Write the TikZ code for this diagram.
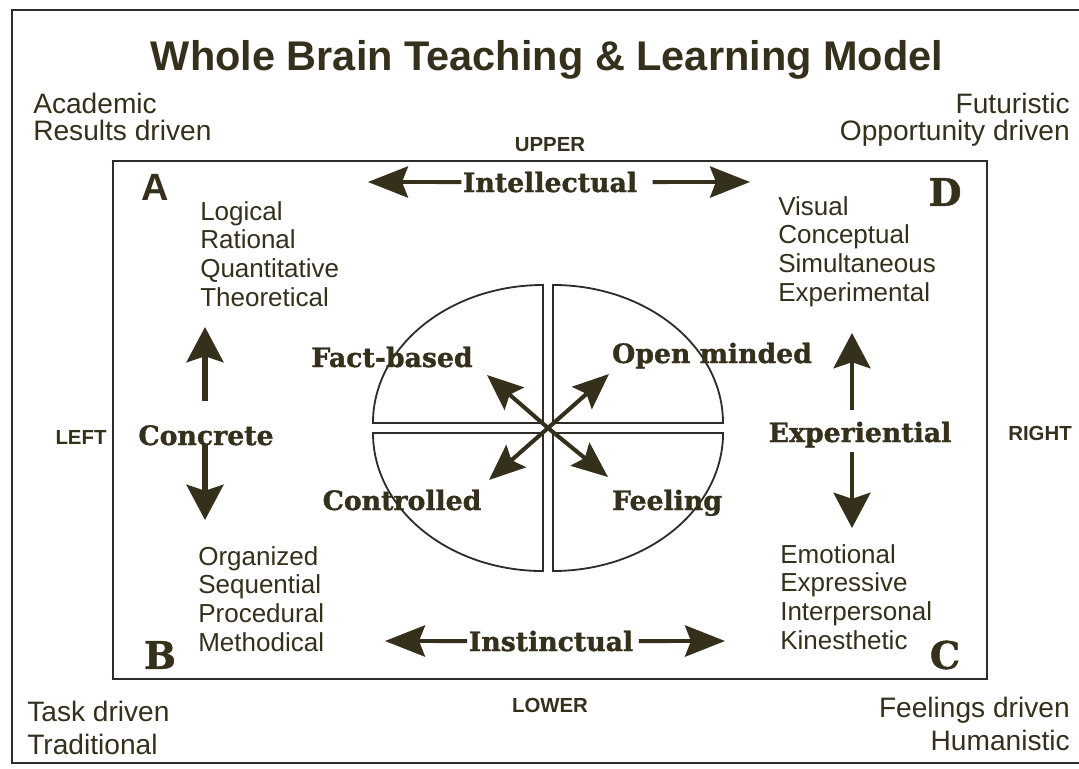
\documentclass[tikz,border=0pt]{standalone}
\usepackage{fontspec}
\setmainfont{Liberation Sans}
\newfontfamily\modefont{DejaVu Serif}[BoldFeatures={FakeBold=1.2}]
\usepackage{tikz}
\usetikzlibrary{positioning}
\usetikzlibrary{arrows.meta}
\definecolor{ink}{RGB}{52,48,28}
\definecolor{rule}{RGB}{46,45,40}
\newlength{\qgap}
\tikzstyle{frame}=[draw=rule, line width=1.4pt]
\tikzstyle{quadrant}=[draw=rule, line width=1.3pt]
\tikzstyle{trait}=[font=\fontsize{18.5}{20.4}\selectfont, align=left, anchor=north west, inner sep=0pt, text=ink]
\tikzstyle{driver}=[font=\fontsize{20}{19.2}\selectfont, inner sep=0pt, text=ink]
\tikzstyle{mode}=[font=\modefont\bfseries\fontsize{19}{22}\selectfont, inner sep=1pt, anchor=base, text=ink]
\tikzstyle{side}=[font=\bfseries\fontsize{14.5}{16}\selectfont, inner sep=0pt, text=ink]
\tikzstyle{corner}=[font=\modefont\bfseries\fontsize{27}{30}\selectfont, inner sep=0pt, text=ink]
\tikzstyle{axis}=[draw=ink, line width=2.8pt, -{Stealth[length=1cm, width=0.78cm, inset=0.15cm]}]
\tikzstyle{stem}=[draw=ink, line width=3.6pt, -{Stealth[length=0.88cm, width=0.92cm, inset=0.15cm]}]
\tikzstyle{spoke}=[draw=ink, line width=2.9pt, -{Stealth[length=0.9cm, width=0.74cm, inset=0.15cm]}]

\begin{document}
\begin{tikzpicture}[x=0.025cm, y=-0.025cm]

	\useasboundingbox (0,0) rectangle (1079,769);
	\fill[white] (0,0) rectangle (1079,769);
	\setlength{\qgap}{0.125cm}

	% frames
	\draw[frame] (1085,10) -- (12,10) -- (12,763) -- (1085,763);
	\draw[frame] (113,161) rectangle (987,679);

	\node (title) [font=\bfseries\fontsize{29.5}{32}\selectfont, text=ink, inner sep=0pt] at (547,60) {Whole Brain Teaching \& Learning Model};

	\node (acad) [driver, align=left, anchor=north west] at (33,93) {Academic\\Results driven};
	\node (futur) [driver, align=right, anchor=north east] at (1070,93) {Futuristic\\Opportunity driven};
	\node (task) [driver, font=\fontsize{20}{23.4}\selectfont, align=left, anchor=north west] at (27,701) {Task driven\\Traditional};
	\node (feel) [driver, font=\fontsize{20}{23.4}\selectfont, align=right, anchor=north east] at (1070,697) {Feelings driven\\Humanistic};

	\node (upper) [side] at (550,145) {UPPER};
	\node (lower) [side] at (550,705) {LOWER};
	\node (left) [side] at (81,437) {LEFT};
	\node (right) [side] at (1040,433) {RIGHT};

	% quadrant letters and traits
	\node (A) [corner, font=\bfseries\fontsize{27}{30}\selectfont] at (155,187) {A};
	\node (D) [corner] at (945,192) {D};
	\node (B) [corner] at (160,655) {B};
	\node (C) [corner] at (945,655) {C};

	\node (traitA) [trait] at (200,201) {Logical\\Rational\\Quantitative\\Theoretical};
	\node (traitD) [trait] at (778,196) {Visual\\Conceptual\\Simultaneous\\Experimental};
	\node (traitB) [trait] at (198,546) {Organized\\Sequential\\Procedural\\Methodical};
	\node (traitC) [trait] at (780,544) {Emotional\\Expressive\\Interpersonal\\Kinesthetic};

	% circle cut in four
	\coordinate (hub) at (548,428);
	\draw[quadrant, shift={(hub)}, xshift=\qgap, yshift=\qgap] (0,0) -- (170,0) arc[start angle=0, end angle=90, x radius=4.25cm, y radius=3.45cm] -- cycle;
	\draw[quadrant, shift={(hub)}, xshift=-\qgap, yshift=\qgap] (0,0) -- (0,-138) arc[start angle=90, end angle=180, x radius=4.25cm, y radius=3.45cm] -- cycle;
	\draw[quadrant, shift={(hub)}, xshift=-\qgap, yshift=-\qgap] (0,0) -- (-170,0) arc[start angle=180, end angle=270, x radius=4.25cm, y radius=3.45cm] -- cycle;
	\draw[quadrant, shift={(hub)}, xshift=\qgap, yshift=-\qgap] (0,0) -- (0,138) arc[start angle=270, end angle=360, x radius=4.25cm, y radius=3.45cm] -- cycle;

	\node (fact) [mode] at (392,367) {Fact-based};
	\node (open) [mode] at (712,363) {Open minded};
	\node (ctrl) [mode] at (402,510) {Controlled};
	\node (feeling) [mode] at (667,510) {Feeling};

	\coordinate (factTip) at (487,375);
	\coordinate (openTip) at (609,374);
	\coordinate (ctrlTip) at (489,480);
	\coordinate (feelTip) at (608,477);
	\draw[spoke] (hub) -- (factTip);
	\draw[spoke] (hub) -- (openTip);
	\draw[spoke] (hub) -- (ctrlTip);
	\draw[spoke] (hub) -- (feelTip);

	% the four axes
	\node (intel) [mode] at (550,192) {Intellectual};
	\node (instinct) [mode] at (551,651) {Instinctual};
	\node (concrete) [mode] at (206,445) {Concrete};
	\node (exper) [mode] at (860,442) {Experiential};

	\coordinate (intelL) at (368,182);
	\coordinate (intelR) at (750,182);
	\coordinate (instL) at (385,641);
	\coordinate (instR) at (725,641);
	\draw[axis] (intel.west) -- (intelL);
	\draw[axis, shorten <=0.35cm] (intel.east) -- (intelR);
	\draw[axis] (instinct.west) -- (instL);
	\draw[axis, shorten <=0.1cm] (instinct.east) -- (instR);

	\coordinate (concUp) at (205,327);
	\coordinate (concDown) at (205,520);
	\coordinate (experUp) at (852,333);
	\coordinate (experDown) at (852,528);
	\draw[stem, shorten <=0.55cm] (concrete.north -| concUp) -- (concUp);
	\draw[stem] (concrete.base -| concDown) -- (concDown);
	\draw[stem, line width=3.2pt, shorten <=0.25cm] (exper.north -| experUp) -- (experUp);
	\draw[stem, line width=3.2pt, shorten <=0.25cm] (exper.base -| experDown) -- (experDown);

\end{tikzpicture}
\end{document}
